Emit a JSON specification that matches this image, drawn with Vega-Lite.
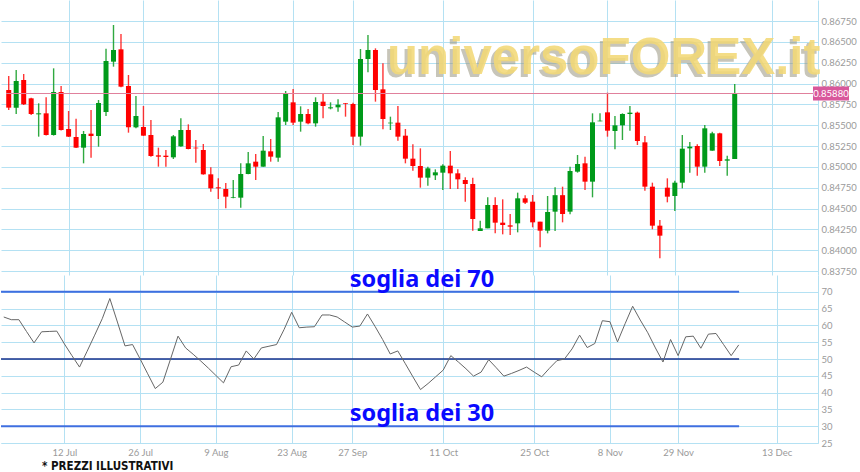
{
  "$schema": "https://vega.github.io/schema/vega-lite/v6.json",
  "padding": 0,
  "background": "white",
  "spacing": 0,
  "bounds": "flush",
  "title": {"text": "* PREZZI ILLUSTRATIVI", "orient": "bottom", "anchor": "start", "dx": 42, "offset": 4, "fontSize": 11.5, "fontWeight": "bold", "font": "'Liberation Sans Narrow', 'DejaVu Sans Condensed', sans-serif", "color": "#111"},
  "config": {
    "view": {"stroke": null},
    "axis": {"gridColor": "#b4e1f3", "gridWidth": 1, "gridOpacity": 1, "domainColor": "#b4e1f3", "labelColor": "#9a9a9a", "labelFont": "Lato", "labelFontSize": 9.5, "ticks": false, "title": null, "labelOverlap": false, "labelBound": false, "labelFlush": false}
  },
  "data": {"values": [
    {"i":0,"o":0.85922,"h":0.8609,"l":0.85682,"c":0.8571,"rsi":62.5},
    {"i":1,"o":0.8571,"h":0.86162,"l":0.85634,"c":0.8603,"rsi":61.7},
    {"i":2,"o":0.86042,"h":0.86114,"l":0.85742,"c":0.8575,"rsi":61.7},
    {"i":3,"o":0.85822,"h":0.8583,"l":0.85622,"c":0.85634,"rsi":58.2},
    {"i":4,"o":0.8563,"h":0.85762,"l":0.85362,"c":0.85642,"rsi":54.8},
    {"i":5,"o":0.85642,"h":0.85834,"l":0.85375,"c":0.85382,"rsi":58.1},
    {"i":6,"o":0.85382,"h":0.86182,"l":0.85375,"c":0.85898,"rsi":58.2},
    {"i":7,"o":0.85898,"h":0.8597,"l":0.85436,"c":0.85442,"rsi":58.3},
    {"i":8,"o":0.85454,"h":0.8567,"l":0.85358,"c":0.85362,"rsi":54.5},
    {"i":9,"o":0.85358,"h":0.85578,"l":0.85226,"c":0.8523,"rsi":51.0},
    {"i":10,"o":0.8523,"h":0.8543,"l":0.85042,"c":0.85394,"rsi":47.6},
    {"i":11,"o":0.85398,"h":0.85682,"l":0.8511,"c":0.8537,"rsi":52.3},
    {"i":12,"o":0.8537,"h":0.85802,"l":0.85242,"c":0.85766,"rsi":57.1},
    {"i":13,"o":0.85658,"h":0.86418,"l":0.8561,"c":0.8627,"rsi":62.0},
    {"i":14,"o":0.86262,"h":0.86702,"l":0.86202,"c":0.86402,"rsi":68.0},
    {"i":15,"o":0.8641,"h":0.86594,"l":0.85954,"c":0.85962,"rsi":61.0},
    {"i":16,"o":0.8597,"h":0.86102,"l":0.8541,"c":0.85474,"rsi":53.9},
    {"i":17,"o":0.85474,"h":0.8585,"l":0.85462,"c":0.8561,"rsi":54.3},
    {"i":18,"o":0.85478,"h":0.8573,"l":0.85372,"c":0.85374,"rsi":50.0},
    {"i":19,"o":0.85382,"h":0.85562,"l":0.85122,"c":0.8513,"rsi":45.6},
    {"i":20,"o":0.85138,"h":0.8523,"l":0.85002,"c":0.85122,"rsi":41.2},
    {"i":21,"o":0.85134,"h":0.85202,"l":0.85002,"c":0.85118,"rsi":43.1},
    {"i":22,"o":0.85114,"h":0.85382,"l":0.85094,"c":0.85366,"rsi":49.9},
    {"i":23,"o":0.85246,"h":0.85582,"l":0.85242,"c":0.85442,"rsi":56.8},
    {"i":24,"o":0.85442,"h":0.8551,"l":0.8521,"c":0.85214,"rsi":53.3},
    {"i":25,"o":0.8523,"h":0.85322,"l":0.8505,"c":0.85222,"rsi":51.4},
    {"i":26,"o":0.85202,"h":0.85274,"l":0.84906,"c":0.8491,"rsi":49.4},
    {"i":27,"o":0.8491,"h":0.84994,"l":0.84702,"c":0.84742,"rsi":47.3},
    {"i":28,"o":0.84754,"h":0.84862,"l":0.84614,"c":0.84742,"rsi":45.1},
    {"i":29,"o":0.84734,"h":0.84806,"l":0.84502,"c":0.84642,"rsi":42.9},
    {"i":30,"o":0.8463,"h":0.84842,"l":0.84622,"c":0.84638,"rsi":47.7},
    {"i":31,"o":0.8463,"h":0.85042,"l":0.8451,"c":0.84914,"rsi":48.2},
    {"i":32,"o":0.84914,"h":0.85178,"l":0.8491,"c":0.85042,"rsi":52.4},
    {"i":33,"o":0.85062,"h":0.85154,"l":0.84842,"c":0.85002,"rsi":50.0},
    {"i":34,"o":0.85002,"h":0.8537,"l":0.85,"c":0.85194,"rsi":53.3},
    {"i":35,"o":0.85186,"h":0.85334,"l":0.85062,"c":0.85122,"rsi":53.8},
    {"i":36,"o":0.8511,"h":0.85658,"l":0.85062,"c":0.85594,"rsi":54.3},
    {"i":37,"o":0.85542,"h":0.8591,"l":0.85502,"c":0.85874,"rsi":58.8},
    {"i":38,"o":0.85774,"h":0.85934,"l":0.85502,"c":0.8553,"rsi":63.9},
    {"i":39,"o":0.85542,"h":0.85726,"l":0.85422,"c":0.85634,"rsi":59.3},
    {"i":40,"o":0.85634,"h":0.85694,"l":0.8551,"c":0.85522,"rsi":59.5},
    {"i":41,"o":0.85522,"h":0.85834,"l":0.85482,"c":0.85778,"rsi":59.6},
    {"i":42,"o":0.85782,"h":0.85882,"l":0.85582,"c":0.8573,"rsi":63.1},
    {"i":43,"o":0.85702,"h":0.85774,"l":0.8569,"c":0.85714,"rsi":63.1},
    {"i":44,"o":0.85714,"h":0.8581,"l":0.85662,"c":0.85746,"rsi":62.5},
    {"i":45,"o":0.85762,"h":0.85766,"l":0.85602,"c":0.85754,"rsi":61.0},
    {"i":46,"o":0.85754,"h":0.8577,"l":0.85262,"c":0.85362,"rsi":59.5},
    {"i":47,"o":0.85362,"h":0.86414,"l":0.85254,"c":0.86294,"rsi":59.8},
    {"i":48,"o":0.86294,"h":0.86582,"l":0.86134,"c":0.86402,"rsi":63.4},
    {"i":49,"o":0.86402,"h":0.86422,"l":0.85782,"c":0.85922,"rsi":59.7},
    {"i":50,"o":0.8593,"h":0.86242,"l":0.8545,"c":0.85574,"rsi":55.8},
    {"i":51,"o":0.85522,"h":0.85602,"l":0.85442,"c":0.8553,"rsi":51.5},
    {"i":52,"o":0.8553,"h":0.8573,"l":0.85314,"c":0.85362,"rsi":52.4},
    {"i":53,"o":0.85374,"h":0.85454,"l":0.85042,"c":0.85098,"rsi":48.6},
    {"i":54,"o":0.85098,"h":0.8527,"l":0.84954,"c":0.8501,"rsi":44.7},
    {"i":55,"o":0.8501,"h":0.85222,"l":0.8475,"c":0.8487,"rsi":40.9},
    {"i":56,"o":0.8487,"h":0.85002,"l":0.84774,"c":0.84982,"rsi":42.7},
    {"i":57,"o":0.84898,"h":0.8497,"l":0.84842,"c":0.84934,"rsi":44.7},
    {"i":58,"o":0.8493,"h":0.8503,"l":0.84722,"c":0.85014,"rsi":46.7},
    {"i":59,"o":0.85014,"h":0.8519,"l":0.84734,"c":0.84922,"rsi":51.0},
    {"i":60,"o":0.84922,"h":0.8497,"l":0.84734,"c":0.8485,"rsi":49.1},
    {"i":61,"o":0.84842,"h":0.84874,"l":0.84582,"c":0.84794,"rsi":47.1},
    {"i":62,"o":0.84794,"h":0.8487,"l":0.84234,"c":0.84374,"rsi":44.9},
    {"i":63,"o":0.8423,"h":0.84354,"l":0.8423,"c":0.84262,"rsi":46.1},
    {"i":64,"o":0.84262,"h":0.84634,"l":0.84262,"c":0.84542,"rsi":49.8},
    {"i":65,"o":0.84542,"h":0.84634,"l":0.84202,"c":0.8433,"rsi":47.4},
    {"i":66,"o":0.8433,"h":0.8461,"l":0.8419,"c":0.84302,"rsi":44.9},
    {"i":67,"o":0.84298,"h":0.84434,"l":0.84182,"c":0.84282,"rsi":45.7},
    {"i":68,"o":0.84322,"h":0.8469,"l":0.84214,"c":0.84622,"rsi":46.6},
    {"i":69,"o":0.84622,"h":0.84658,"l":0.84554,"c":0.8457,"rsi":47.6},
    {"i":70,"o":0.84582,"h":0.84662,"l":0.84274,"c":0.84334,"rsi":46.1},
    {"i":71,"o":0.84342,"h":0.84342,"l":0.84034,"c":0.84234,"rsi":44.7},
    {"i":72,"o":0.84234,"h":0.8465,"l":0.84202,"c":0.84458,"rsi":47.2},
    {"i":73,"o":0.84462,"h":0.84754,"l":0.8423,"c":0.8466,"rsi":49.5},
    {"i":74,"o":0.8466,"h":0.84762,"l":0.84334,"c":0.84434,"rsi":50.0},
    {"i":75,"o":0.84462,"h":0.85002,"l":0.8443,"c":0.8495,"rsi":53.0},
    {"i":76,"o":0.84942,"h":0.85142,"l":0.8493,"c":0.85034,"rsi":57.1},
    {"i":77,"o":0.85042,"h":0.85122,"l":0.84722,"c":0.84822,"rsi":53.4},
    {"i":78,"o":0.84822,"h":0.85642,"l":0.84634,"c":0.85534,"rsi":54.6},
    {"i":79,"o":0.85546,"h":0.85642,"l":0.85546,"c":0.85554,"rsi":61.4},
    {"i":80,"o":0.85654,"h":0.8589,"l":0.85362,"c":0.85434,"rsi":61.1},
    {"i":81,"o":0.8543,"h":0.8561,"l":0.8521,"c":0.85498,"rsi":55.1},
    {"i":82,"o":0.85498,"h":0.85642,"l":0.85322,"c":0.85634,"rsi":60.5},
    {"i":83,"o":0.85634,"h":0.8573,"l":0.85434,"c":0.8565,"rsi":65.7},
    {"i":84,"o":0.8565,"h":0.85662,"l":0.85262,"c":0.8531,"rsi":61.6},
    {"i":85,"o":0.85294,"h":0.8537,"l":0.84714,"c":0.84762,"rsi":57.8},
    {"i":86,"o":0.84762,"h":0.8481,"l":0.8425,"c":0.84294,"rsi":53.3},
    {"i":87,"o":0.84294,"h":0.84362,"l":0.83902,"c":0.84174,"rsi":49.1},
    {"i":88,"o":0.8475,"h":0.84862,"l":0.84574,"c":0.84642,"rsi":55.8},
    {"i":89,"o":0.8465,"h":0.84834,"l":0.8447,"c":0.8481,"rsi":51.0},
    {"i":90,"o":0.8481,"h":0.85382,"l":0.84742,"c":0.85218,"rsi":56.6},
    {"i":91,"o":0.85222,"h":0.85298,"l":0.8493,"c":0.85242,"rsi":56.8},
    {"i":92,"o":0.8525,"h":0.8527,"l":0.84894,"c":0.85002,"rsi":53.2},
    {"i":93,"o":0.85002,"h":0.85502,"l":0.8493,"c":0.85462,"rsi":57.4},
    {"i":94,"o":0.85194,"h":0.85422,"l":0.85194,"c":0.85402,"rsi":57.6},
    {"i":95,"o":0.85402,"h":0.8541,"l":0.8501,"c":0.8507,"rsi":54.3},
    {"i":96,"o":0.85074,"h":0.85134,"l":0.84894,"c":0.8509,"rsi":51.0},
    {"i":97,"o":0.85094,"h":0.85994,"l":0.85094,"c":0.8588,"rsi":54.2}
  ]},
  "vconcat": [
    {
      "width": 817,
      "height": 275,
      "layer": [
        {
          "mark": {"type": "rule", "strokeWidth": 1.4},
          "encoding": {
            "x": {"field": "i", "type": "quantitative", "scale": {"domain": [-0.363, 107.46], "nice": false, "zero": false},
                  "axis": {"values": [8, 18, 28, 38, 46, 58, 70, 80, 89, 102], "tickCount": 40, "labels": false, "domain": false, "grid": true}},
            "y": {"field": "l", "type": "quantitative", "scale": {"domain": [0.83702, 0.87002], "nice": false, "zero": false},
                  "axis": {"orient": "right", "values": [0.8375, 0.84, 0.8425, 0.845, 0.8475, 0.85, 0.8525, 0.855, 0.8575, 0.86, 0.8625, 0.865, 0.8675], "tickCount": 40, "format": ".5f", "grid": true, "domain": true, "labelPadding": 3}},
            "y2": {"field": "h"},
            "color": {"condition": {"test": "datum.o > datum.c", "value": "#ff1010"}, "value": "#0a9a1e"},
            "opacity": {"value": 0.85}
          }
        },
        {
          "mark": {"type": "bar", "size": 5},
          "encoding": {
            "x": {"field": "i", "type": "quantitative"},
            "y": {"field": "o", "type": "quantitative"},
            "y2": {"field": "c"},
            "color": {"condition": {"test": "datum.o > datum.c", "value": "#ff0000"}, "value": "#009a1a"}
          }
        },
        {
          "data": {"values": [{"price": 0.8588}]},
          "mark": {"type": "rule", "color": "#e0809c", "strokeWidth": 1},
          "encoding": {
            "x": {"datum": -0.363},
            "x2": {"datum": 107.46},
            "y": {"field": "price", "type": "quantitative"}
          }
        },
        {
          "data": {"values": [{"label": "universoFOREX.it"}]},
          "mark": {"type": "text", "align": "center", "baseline": "alphabetic", "font": "Liberation Sans", "fontWeight": "bold", "fontSize": 51, "color": "#9a9680", "opacity": 0.55, "dx": -3, "dy": 3},
          "encoding": {"x": {"datum": 79.5}, "y": {"datum": 0.8612}, "text": {"field": "label"}}
        },
        {
          "data": {"values": [{"label": "universoFOREX.it"}]},
          "mark": {"type": "text", "align": "center", "baseline": "alphabetic", "font": "Liberation Sans", "fontWeight": "bold", "fontSize": 51, "color": "#f3d977", "opacity": 0.88},
          "encoding": {"x": {"datum": 79.5}, "y": {"datum": 0.8612}, "text": {"field": "label"}}
        },
        {
          "data": {"values": [{"label": "0.85880", "price": 0.8588}]},
          "mark": {"type": "rect", "color": "#d9579b", "x2Offset": 36, "yOffset": -7, "y2Offset": 7},
          "encoding": {"x": {"datum": 107.46}, "x2": {"datum": 107.46}, "y": {"field": "price", "type": "quantitative"}, "y2": {"field": "price"}}
        },
        {
          "data": {"values": [{"label": "0.85880", "price": 0.8588}]},
          "mark": {"type": "text", "align": "center", "baseline": "middle", "dx": 18, "color": "white", "font": "Lato", "fontSize": 9.5},
          "encoding": {"x": {"datum": 107.46}, "y": {"field": "price", "type": "quantitative"}, "text": {"field": "label"}}
        }
      ]
    },
    {
      "width": 817,
      "height": 168,
      "layer": [
        {
          "data": {"values": [{"lvl": 70}, {"lvl": 30}]},
          "mark": {"type": "rule", "color": "#3f6fe0", "strokeWidth": 2},
          "encoding": {
            "x": {"datum": -0.363, "scale": {"domain": [-0.363, 107.46], "nice": false, "zero": false},
                  "axis": {"values": [8, 18, 28, 38, 46, 58, 70, 80, 89, 102], "tickCount": 40, "grid": true, "domain": true, "labelPadding": 4,
                           "labelExpr": "datum.value==8?'12 Jul':datum.value==18?'26 Jul':datum.value==28?'9 Aug':datum.value==38?'23 Aug':datum.value==46?'27 Sep':datum.value==58?'11 Oct':datum.value==70?'25 Oct':datum.value==80?'8 Nov':datum.value==89?'29 Nov':'13 Dec'"}},
            "x2": {"datum": 97.05},
            "y": {"field": "lvl", "type": "quantitative", "scale": {"domain": [25, 75], "nice": false, "zero": false},
                  "axis": {"orient": "right", "values": [25, 30, 35, 40, 45, 50, 55, 60, 65, 70], "tickCount": 40, "grid": true, "domain": true, "labelPadding": 3}}
          }
        },
        {
          "data": {"values": [{"lvl": 50}]},
          "mark": {"type": "rule", "color": "#14308c", "strokeWidth": 1.5},
          "encoding": {
            "x": {"datum": -0.363},
            "x2": {"datum": 97.05},
            "y": {"field": "lvl", "type": "quantitative"}
          }
        },
        {
          "mark": {"type": "line", "color": "#666666", "strokeWidth": 1},
          "encoding": {"x": {"field": "i", "type": "quantitative"}, "y": {"field": "rsi", "type": "quantitative"}}
        },
        {
          "data": {"values": [{"t": "soglia dei 70", "lvl": 70}, {"t": "soglia dei 30", "lvl": 30}]},
          "mark": {"type": "text", "align": "center", "baseline": "alphabetic", "dy": -5, "color": "#0a0aff", "font": "Noto Sans", "fontWeight": "bold", "fontSize": 23.5},
          "encoding": {"x": {"datum": 55.2}, "y": {"field": "lvl", "type": "quantitative"}, "text": {"field": "t"}}
        }
      ]
    }
  ]
}
